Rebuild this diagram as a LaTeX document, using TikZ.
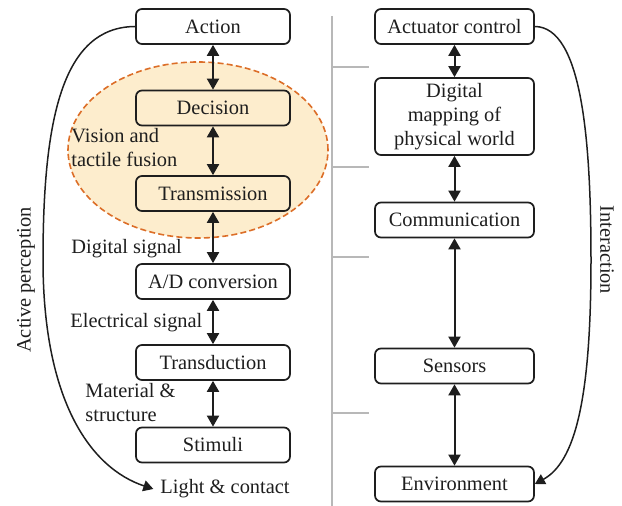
\documentclass[tikz,border=0pt]{standalone}
\usepackage{fontspec}
\setmainfont{Liberation Serif}
\usetikzlibrary{arrows.meta}
\definecolor{fuse}{RGB}{253,237,205}
\definecolor{fuseedge}{RGB}{220,110,40}
\definecolor{sepgray}{RGB}{184,184,184}
\definecolor{ink}{RGB}{30,30,30}
\begin{document}
\begin{tikzpicture}[x=0.5pt,y=-0.5pt, font=\rmfamily\fontsize{10.2}{12}\selectfont, text=ink,
  box/.style={draw=ink, line width=0.85pt, rounded corners=3pt, minimum height=17.5pt, inner sep=0pt},
  lbox/.style={box, minimum width=77pt},
  rbox/.style={box, minimum width=79.5pt},
  tip/.tip={Triangle[length=5.5pt,width=6pt]},
  smalltip/.tip={Triangle[length=5pt,width=5.5pt]},
  dbl/.style={draw=ink, line width=1pt, tip-tip},
  curvearrow/.style={draw=ink, line width=0.75pt, -smalltip},
  lbl/.style={anchor=west, align=left, inner sep=0pt},
  sepline/.style={draw=sepgray, line width=1pt}
  ]
\useasboundingbox (0,0) rectangle (622,506);

% fusion ellipse
\draw[fill=fuse, draw=fuseedge, line width=0.8pt, dash pattern=on 3pt off 1.6pt]
  (198,150) ellipse [x radius=65pt, y radius=44pt];

% separator
\draw[sepline] (332,16) -- (332,506);
\foreach \yy in {67,167,257,413} \draw[sepline] (332,\yy) -- (369,\yy);

% left column
\node[lbox] (act)  at (213,26.5) {Action};
\node[lbox] (dec)  at (213,108) {Decision};
\node[lbox] (tra)  at (213,193.5) {Transmission};
\node[lbox] (adc)  at (213,281.5) {A/D conversion};
\node[lbox] (tdu)  at (213,362.5) {Transduction};
\node[lbox] (sti)  at (213,445) {Stimuli};
\node (light) at (225,489) {Light \& contact};

\draw[dbl] (act) -- (dec);
\draw[dbl] (dec) -- (tra);
\draw[dbl] (tra) -- (adc);
\draw[dbl] (adc) -- (tdu);
\draw[dbl] (tdu) -- (sti);

\node[lbl] (vis) at (71,148) {Vision and\\tactile fusion};
\node[lbl] (dig) at (71,249) {Digital signal};
\node[lbl] (ele) at (70,323) {Electrical signal};
\node[lbl] (mat) at (85,403) {Material \&\\structure};

\draw[curvearrow] (act.west) .. controls (62,27) and (43,120) .. (43,260)
  .. controls (43,400) and (90,468) .. (light.west);
\node[rotate=90] (ap) at (26,280) {Active perception};

% right column
\node[rbox] (acc)  at (454.5,26.5) {Actuator control};
\node[rbox, minimum height=38.5pt, align=center] (dmp) at (454.5,116.5) {Digital\\mapping of\\physical world};
\node[rbox] (com)  at (454.5,220) {Communication};
\node[rbox] (sen)  at (454.5,366) {Sensors};
\node[rbox] (env)  at (454.5,484) {Environment};

\draw[dbl] (acc) -- (dmp);
\draw[dbl] (dmp) -- (com);
\draw[dbl] (com) -- (sen);
\draw[dbl] (sen) -- (env);

\draw[curvearrow] (acc.east) .. controls (582,27) and (591,140) .. (591,260)
  .. controls (591,400) and (575,462) .. (env.east);
\node[rotate=-90] (int) at (607,250) {Interaction};
\end{tikzpicture}
\end{document}
